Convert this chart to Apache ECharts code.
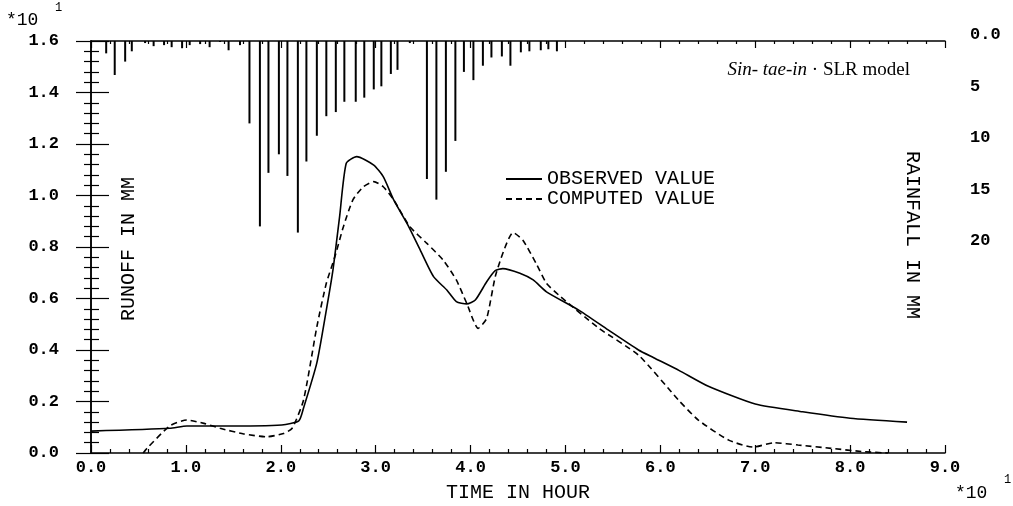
<!DOCTYPE html>
<html>
<head>
<meta charset="utf-8">
<script src="https://cdn.jsdelivr.net/npm/echarts@6/dist/echarts.min.js"></script>
<style>
  html, body { margin: 0; padding: 0; background: #fff; }
  #chart { width: 1013px; height: 506px; }
</style>
</head>
<body>
<div id="chart"></div>
<script>
// time in hours, runoff in mm (axis shows x10)
var obsTime = [0, 8.3, 10.1, 13.6, 20.1, 21.9, 22.4, 23.8, 24.8, 25.5, 26.2, 26.9, 28.0, 29.8, 30.8, 31.9, 33.4, 34.7, 36.1, 37.5, 38.5, 39.6, 40.5, 41.7, 42.6, 43.4, 45.2, 46.6, 48.0, 51.4, 54.5, 57.7, 59.3, 62.0, 65.0, 70.0, 75.0, 80.0, 86.0];
var obsValue = [0.085, 0.096, 0.105, 0.105, 0.109, 0.125, 0.175, 0.35, 0.555, 0.711, 0.918, 1.125, 1.151, 1.118, 1.073, 0.983, 0.885, 0.788, 0.685, 0.633, 0.588, 0.579, 0.594, 0.665, 0.708, 0.716, 0.698, 0.672, 0.626, 0.555, 0.478, 0.40, 0.37, 0.32, 0.26, 0.19, 0.16, 0.135, 0.12];

var comTime = [5.5, 5.9, 8.3, 10.1, 11.9, 13.6, 16.1, 18.5, 20.3, 21.2, 22.4, 23.8, 24.8, 25.7, 26.6, 27.6, 28.7, 29.8, 30.8, 31.9, 33.6, 35.4, 37.1, 38.5, 39.6, 40.8, 41.7, 42.7, 44.5, 45.5, 46.9, 48.0, 49.3, 53.5, 57.7, 61.9, 64.0, 67.2, 69.8, 72.0, 74.5, 78.0, 81.5, 84.0];
var comValue = [0, 0.018, 0.105, 0.128, 0.115, 0.096, 0.074, 0.063, 0.076, 0.096, 0.206, 0.49, 0.659, 0.762, 0.879, 0.983, 1.034, 1.054, 1.034, 0.983, 0.879, 0.814, 0.75, 0.672, 0.581, 0.484, 0.523, 0.698, 0.856, 0.827, 0.737, 0.659, 0.613, 0.485, 0.38, 0.206, 0.128, 0.05, 0.023, 0.04, 0.031, 0.018, 0.005, 0];

var rainTime = [1.6, 2.5, 3.6, 4.3, 5.7, 6.6, 7.7, 8.5, 9.6, 10.4, 11.5, 12.5, 13.6, 14.5, 15.7, 16.7, 17.8, 18.7, 19.8, 20.7, 21.8, 22.7, 23.8, 24.8, 25.8, 26.7, 27.9, 28.8, 29.8, 30.6, 31.6, 32.3, 33.6, 35.4, 36.4, 37.4, 38.4, 39.3, 40.3, 41.3, 42.2, 43.3, 44.2, 45.3, 46.2, 47.4, 48.2, 49.1];
var rainDepth = [1.2, 3.3, 2.0, 1.0, 0.2, 0.5, 0.4, 0.6, 0.7, 0.4, 0.3, 0.6, 0.1, 0.9, 0.4, 8.0, 18.0, 12.8, 11.0, 13.1, 18.6, 11.7, 9.2, 7.3, 6.9, 5.9, 5.9, 5.5, 4.7, 4.4, 3.2, 2.8, 0.2, 13.4, 15.4, 12.7, 9.7, 3.0, 3.8, 2.4, 1.6, 1.5, 2.4, 1.1, 1.0, 0.9, 0.8, 1.0];

var rainLabels = [0, 5, 10, 15, 20];

function zip(a, b) {
    var out = [];
    for (var i = 0; i < a.length; i++) out.push([a[i], b[i]]);
    return out;
}

var mono = 'Liberation Mono';
var lineCol = '#000';

var chart = echarts.init(document.getElementById('chart'));

var option = {
    backgroundColor: '#fff',
    animation: false,
    grid: { left: 91, right: 68, top: 41, bottom: 53 },
    legend: {
        data: ['OBSERVED VALUE', 'COMPUTED VALUE'],
        orient: 'vertical',
        left: 500,
        top: 164,
        itemGap: 0,
        itemWidth: 36,
        itemHeight: 12,
        itemStyle: { opacity: 0 },
        textStyle: { fontFamily: mono, fontSize: 20, color: '#000' }
    },
    xAxis: [
        {
            type: 'value', min: 0, max: 90, interval: 10,
            axisLine: { lineStyle: { color: lineCol, width: 1.5 } },
            axisTick: { inside: true, length: 8, lineStyle: { color: lineCol, width: 1.2 } },
            minorTick: { show: true, splitNumber: 5, length: 4, lineStyle: { color: lineCol, width: 1.2 } },
            splitLine: { show: false },
            axisLabel: {
                fontFamily: mono, fontSize: 17, fontWeight: 'bold', color: '#000', margin: 6,
                formatter: function (v) { return (v / 10).toFixed(1); }
            }
        },
        {
            type: 'value', min: 0, max: 90, interval: 10, position: 'top',
            axisLine: { lineStyle: { color: lineCol, width: 1.5 } },
            axisTick: { inside: true, length: 7, lineStyle: { color: lineCol, width: 1.2 } },
            minorTick: { show: true, splitNumber: 5, length: 3, lineStyle: { color: lineCol, width: 1.2 } },
            splitLine: { show: false },
            axisLabel: { show: false }
        }
    ],
    yAxis: [
        {
            type: 'value', min: 0, max: 1.6, interval: 0.2,
            axisLine: { show: true, lineStyle: { color: lineCol, width: 1.5 } },
            axisTick: { show: true, inside: true, length: 18, lineStyle: { color: lineCol, width: 1.2 } },
            minorTick: { show: true, splitNumber: 5, length: 8, lineStyle: { color: lineCol, width: 1.2 } },
            splitLine: { show: false },
            axisLabel: {
                fontFamily: mono, fontSize: 17, fontWeight: 'bold', color: '#000', margin: 32,
                formatter: function (v) { return v.toFixed(1); }
            }
        },
        {
            type: 'value', min: 0, max: 40, interval: 5, inverse: true, position: 'right',
            axisLine: { show: true, lineStyle: { color: lineCol, width: 1.5 } },
            axisTick: { show: true, inside: true, length: 15, lineStyle: { color: lineCol, width: 1.2 } },
            minorTick: { show: true, splitNumber: 5, length: 7, lineStyle: { color: lineCol, width: 1.2 } },
            splitLine: { show: false },
            axisLabel: {
                fontFamily: mono, fontSize: 17, fontWeight: 'bold', color: '#000', margin: 25,
                verticalAlign: 'bottom', lineHeight: 12,
                formatter: function (v) {
                    if (rainLabels.indexOf(v) < 0) return '';
                    return v === 0 ? '0.0' : String(v);
                }
            }
        }
    ],
    graphic: [
        { type: 'text', x: 129, y: 249, rotation: Math.PI / 2,
          style: { text: 'RUNOFF IN MM', fontFamily: mono, fontSize: 20, fill: '#000', align: 'center', verticalAlign: 'middle' } },
        { type: 'text', x: 912, y: 235, rotation: -Math.PI / 2,
          style: { text: 'RAINFALL IN MM', fontFamily: mono, fontSize: 20, fill: '#000', align: 'center', verticalAlign: 'middle' } },
        { type: 'text', x: 518, y: 493,
          style: { text: 'TIME IN HOUR', fontFamily: mono, fontSize: 20, fill: '#000', align: 'center', verticalAlign: 'middle' } },
        { type: 'text', x: 6, y: 20,
          style: { text: '*10', fontFamily: mono, fontSize: 18, fill: '#000', align: 'left', verticalAlign: 'middle' } },
        { type: 'text', x: 55, y: 8,
          style: { text: '1', fontFamily: mono, fontSize: 12, fill: '#000', align: 'left', verticalAlign: 'middle' } },
        { type: 'text', x: 955, y: 493,
          style: { text: '*10', fontFamily: mono, fontSize: 18, fill: '#000', align: 'left', verticalAlign: 'middle' } },
        { type: 'text', x: 1004, y: 480,
          style: { text: '1', fontFamily: mono, fontSize: 12, fill: '#000', align: 'left', verticalAlign: 'middle' } },
        { type: 'text', x: 910, y: 70,
          style: {
              text: '{i|Sin- tae-in} · SLR model',
              fontFamily: 'Liberation Serif', fontSize: 19, fill: '#000', align: 'right', verticalAlign: 'middle',
              rich: { i: { fontFamily: 'Liberation Serif', fontSize: 19, fontStyle: 'italic', fill: '#000' } }
          } }
    ],
    series: [
        {
            name: 'RAINFALL', type: 'bar', xAxisIndex: 0, yAxisIndex: 1,
            barWidth: 2, itemStyle: { color: '#000' },
            data: zip(rainTime, rainDepth)
        },
        {
            name: 'OBSERVED VALUE', type: 'line', xAxisIndex: 0, yAxisIndex: 0,
            symbol: 'none', smooth: 0.2,
            lineStyle: { color: '#000', width: 1.6, type: 'solid' },
            itemStyle: { color: '#000' },
            data: zip(obsTime, obsValue)
        },
        {
            name: 'COMPUTED VALUE', type: 'line', xAxisIndex: 0, yAxisIndex: 0,
            symbol: 'none', smooth: 0.2,
            lineStyle: { color: '#000', width: 1.6, type: [6, 4] },
            itemStyle: { color: '#000' },
            data: zip(comTime, comValue)
        }
    ]
};

chart.setOption(option);
</script>
</body>
</html>
